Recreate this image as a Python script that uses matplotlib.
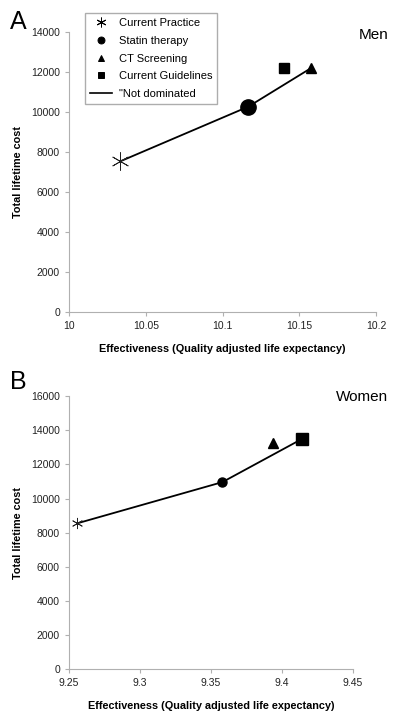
import matplotlib.pyplot as plt
from matplotlib.lines import Line2D

plt.rcParams['font.family'] = ['Liberation Sans', 'DejaVu Sans']

# strategies
strategies = ["Current Practice", "Statin therapy", "CT Screening", "Current Guidelines"]
markers = [(6, 2, 0), "o", "^", "s"]

# Men (panel A)
men_eff = [10.0332, 10.1168, 10.1575, 10.1399]
men_cost = [7530, 10270, 12190, 12180]
men_size = [13, 11, 7, 6.5]
men_front = ["Current Practice", "Statin therapy", "CT Screening"]

# Women (panel B)
women_eff = [9.2559, 9.358, 9.3934, 9.4139]
women_cost = [8550, 10960, 13230, 13480]
women_size = [8, 6.5, 6.5, 9]
women_front = ["Current Practice", "Statin therapy", "Current Guidelines"]

fig = plt.figure(figsize=(4, 7.24), dpi=100)
axA = fig.add_axes([0.1725, 0.569, 0.7675, 0.3867])
axB = fig.add_axes([0.1725, 0.0755, 0.71, 0.3775])


def draw(ax, eff, cost, sizes, front, xlim, ylim, yticks, xticks, xlabels):
    fx = [eff[strategies.index(s)] for s in front]
    fy = [cost[strategies.index(s)] for s in front]
    ax.plot(fx, fy, color="black", lw=1.3, zorder=2)
    for i in range(len(strategies)):
        ax.plot(eff[i], cost[i], linestyle="none", marker=markers[i],
                ms=sizes[i], color="#222222" if i == 0 else "black",
                mew=0.6 if i == 0 else 1, zorder=3)
    ax.set_xlim(xlim)
    ax.set_ylim(ylim)
    ax.set_xticks(xticks)
    ax.set_xticklabels(xlabels)
    ax.set_yticks(yticks)
    for s in ["top", "right"]:
        ax.spines[s].set_visible(False)
    for s in ["left", "bottom"]:
        ax.spines[s].set_color("#b0b0b0")
        ax.spines[s].set_linewidth(0.8)
    ax.tick_params(colors="#b0b0b0", labelcolor="#222222", labelsize=7.5,
                   length=3, width=0.8)
    ax.set_xlabel("Effectiveness (Quality adjusted life expectancy)",
                  fontsize=7.8, fontweight="bold", labelpad=9)
    ax.set_ylabel("Total lifetime cost", fontsize=7.8, fontweight="bold",
                  labelpad=6)


draw(axA, men_eff, men_cost, men_size, men_front, (10, 10.2), (0, 14000),
     range(0, 14001, 2000), [10, 10.05, 10.1, 10.15, 10.2],
     ["10", "10.05", "10.1", "10.15", "10.2"])
draw(axB, women_eff, women_cost, women_size, women_front, (9.25, 9.45),
     (0, 16000), range(0, 16001, 2000), [9.25, 9.3, 9.35, 9.4, 9.45],
     ["9.25", "9.3", "9.35", "9.4", "9.45"])

handles = [Line2D([], [], linestyle="none", marker=markers[i], color="black",
                  ms=[7, 5, 5, 4.5][i], mew=0.7) for i in range(4)]
handles.append(Line2D([], [], color="black", lw=1.2))
labels = strategies + ['"Not dominated']
fig.legend(handles, labels, loc="upper left", bbox_to_anchor=(0.2125, 0.982),
           borderaxespad=0, fontsize=8, frameon=True, fancybox=False,
           edgecolor="#999999", handlelength=2.0, handletextpad=0.6,
           labelspacing=0.7, borderpad=0.45)

fig.text(0.025, 0.97, "A", fontsize=18, va="center")
fig.text(0.025, 0.473, "B", fontsize=18, va="center")
fig.text(0.97, 0.952, "Men", fontsize=11, ha="right", va="center")
fig.text(0.97, 0.452, "Women", fontsize=11, ha="right", va="center")

fig.savefig("out.png", dpi=100)
